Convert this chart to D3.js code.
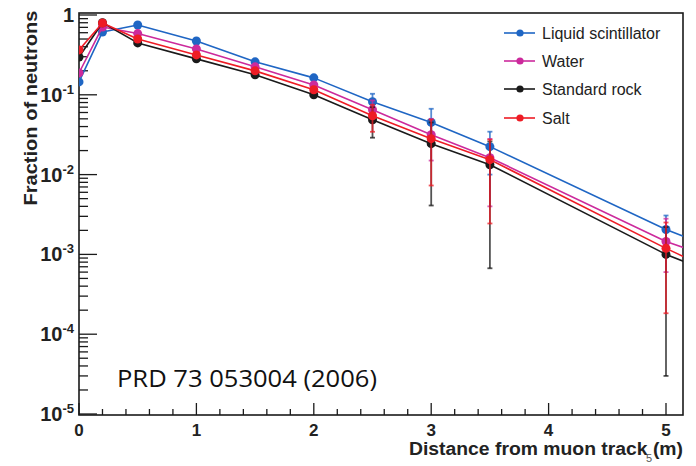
<!DOCTYPE html>
<html>
<head>
<meta charset="utf-8">
<script src="https://cdn.jsdelivr.net/npm/d3@7/dist/d3.min.js"></script>
<style>
	body { margin: 0; background: #fff; }
	svg { display: block; }
</style>
</head>
<body>
<div id="chart"></div>
<script>
// distances (m) where the fractions were computed
var distances = [0, 0.2, 0.5, 1, 1.5, 2, 2.5, 3, 3.5, 5];

var seriesNames = ["Liquid scintillator", "Water", "Standard rock", "Salt"];
var seriesColors = ["#1f66c4", "#cc2a9c", "#1a1a1a", "#ee1c25"];

// fraction of neutrons
var liquidScint = [0.145, 0.613, 0.75, 0.473, 0.259, 0.163, 0.0818, 0.0451, 0.0224, 0.00205];
var water       = [0.188, 0.708, 0.585, 0.376, 0.224, 0.133, 0.065, 0.0316, 0.0163, 0.00145];
var stdRock     = [0.298, 0.80, 0.447, 0.282, 0.178, 0.1, 0.0487, 0.0244, 0.0133, 0.001];
var salt        = [0.365, 0.794, 0.501, 0.316, 0.1995, 0.1155, 0.0546, 0.0282, 0.0154, 0.00119];

// where each curve leaves the frame on the right
var lineEndX = 5.15;
var lineEnds = [0.00168, 0.00122, 0.00082, 0.00094];

// error bars (low, high) for x = 2.5, 3, 3.5, 5
var errX = [2.5, 3, 3.5, 5];
var liquidScintErr = [[0.068, 0.103], [0.030, 0.0668], [0.010, 0.0345], [0.0012, 0.00307]];
var waterErr       = [[0.045, 0.085], [0.015, 0.050], [0.004, 0.028], [0.0006, 0.0028]];
var stdRockErr     = [[0.029, 0.070], [0.0041, 0.045], [0.00067, 0.026], [0.00003, 0.0022]];
var saltErr        = [[0.0344, 0.075], [0.0073, 0.0487], [0.00244, 0.0274], [0.000183, 0.00251]];

var xMajorTicks = [0, 1, 2, 3, 4, 5];
var yDecades = [-5, -4, -3, -2, -1, 0];

var seriesValues = [liquidScint, water, stdRock, salt];
var seriesErrs = [liquidScintErr, waterErr, stdRockErr, saltErr];

var width = 696, height = 466;
var frameL = 79, frameR = 683, frameT = 13, frameB = 415;
var sansFont = "'Liberation Sans', Arial, Helvetica, sans-serif";

var x = d3.scaleLinear().domain([0, 5]).range([frameL, 666]);
var y = d3.scaleLog().domain([1e-5, 1]).range([414, 15]);

var svg = d3.select("#chart").append("svg")
	.attr("width", width)
	.attr("height", height);

svg.append("defs").append("clipPath")
	.attr("id", "plotclip")
	.append("rect")
	.attr("x", frameL).attr("y", frameT)
	.attr("width", frameR - frameL).attr("height", frameB - frameT);

var tickColor = "#1a1a1a";
var textColor = "#222";

// x ticks (point up into the frame)
var xMinor = d3.range(0, 5.15, 0.2);
svg.append("g").selectAll("line")
	.data(xMinor)
	.enter().append("line")
	.attr("x1", function(d) { return x(d); })
	.attr("x2", function(d) { return x(d); })
	.attr("y1", frameB)
	.attr("y2", function(d) {
		return Math.abs(d - Math.round(d)) < 1e-6 ? frameB - 12 : frameB - 6;
	})
	.attr("stroke", tickColor)
	.attr("stroke-width", 1.3);

svg.append("g").selectAll("text")
	.data(xMajorTicks)
	.enter().append("text")
	.attr("x", function(d) { return x(d); })
	.attr("y", 436)
	.attr("text-anchor", "middle")
	.style("font-family", sansFont)
	.attr("font-weight", "bold")
	.attr("font-size", 17)
	.attr("fill", textColor)
	.text(function(d) { return d; });

// y ticks on log axis
var yMinor = [];
yDecades.forEach(function(p) {
	if (p >= 0) return;
	for (var k = 2; k <= 9; k++) yMinor.push(k * Math.pow(10, p));
});
svg.append("g").selectAll("line.minor")
	.data(yMinor)
	.enter().append("line")
	.attr("x1", frameL).attr("x2", frameL + 9)
	.attr("y1", function(d) { return y(d); })
	.attr("y2", function(d) { return y(d); })
	.attr("stroke", tickColor)
	.attr("stroke-width", 1.3);

svg.append("g").selectAll("line.major")
	.data(yDecades)
	.enter().append("line")
	.attr("x1", frameL).attr("x2", frameL + 18)
	.attr("y1", function(d) { return y(Math.pow(10, d)); })
	.attr("y2", function(d) { return y(Math.pow(10, d)); })
	.attr("stroke", tickColor)
	.attr("stroke-width", 1.3);

var yLabels = svg.append("g").selectAll("text")
	.data(yDecades)
	.enter().append("text")
	.attr("x", 74)
	.attr("y", function(d) { return y(Math.pow(10, d)) + 7; })
	.attr("text-anchor", "end")
	.style("font-family", sansFont)
	.attr("font-weight", "bold")
	.attr("font-size", 20)
	.attr("fill", textColor);

yLabels.each(function(d) {
	var t = d3.select(this);
	if (d === 0) {
		t.text("1");
		return;
	}
	t.append("tspan").text("10");
	t.append("tspan")
		.attr("font-size", 13)
		.attr("dy", -8)
		.text(d);
});

// frame
svg.append("rect")
	.attr("x", frameL).attr("y", frameT)
	.attr("width", frameR - frameL).attr("height", frameB - frameT)
	.attr("fill", "none")
	.attr("stroke", tickColor)
	.attr("stroke-width", 1.6);

// axis titles
svg.append("text")
	.attr("transform", "translate(37,108) rotate(-90)")
	.attr("text-anchor", "middle")
	.style("font-family", sansFont)
	.attr("font-weight", "bold")
	.attr("font-size", 19)
	.attr("textLength", 195)
	.attr("lengthAdjust", "spacingAndGlyphs")
	.attr("fill", textColor)
	.text("Fraction of  neutrons");

svg.append("text")
	.attr("x", 683)
	.attr("y", 455)
	.attr("text-anchor", "end")
	.style("font-family", sansFont)
	.attr("font-weight", "bold")
	.attr("font-size", 18)
	.attr("textLength", 274)
	.attr("lengthAdjust", "spacingAndGlyphs")
	.attr("fill", textColor)
	.text("Distance from muon track (m)");

// stray slide number sitting on the title
svg.append("text")
	.attr("x", 646)
	.attr("y", 462)
	.style("font-family", sansFont)
	.attr("font-size", 11)
	.attr("fill", "#555")
	.text("5");

// data
var plot = svg.append("g").attr("clip-path", "url(#plotclip)");

var line = d3.line()
	.x(function(d) { return x(d[0]); })
	.y(function(d) { return y(d[1]); });

seriesValues.forEach(function(vals, si) {
	var color = seriesColors[si];
	var g = plot.append("g");
	var pts = distances.map(function(d, i) { return [d, vals[i]]; });
	pts.push([lineEndX, lineEnds[si]]);

	g.append("path")
		.datum(pts)
		.attr("d", line)
		.attr("fill", "none")
		.attr("stroke", color)
		.attr("stroke-width", 1.6)
		.attr("stroke-linejoin", "round");

	var errs = seriesErrs[si];
	var eg = g.append("g")
		.attr("stroke", color)
		.attr("stroke-opacity", 0.75)
		.attr("stroke-width", 1.8);
	errX.forEach(function(ex, i) {
		var px = x(ex);
		eg.append("line")
			.attr("x1", px).attr("x2", px)
			.attr("y1", y(errs[i][0])).attr("y2", y(errs[i][1]));
		errs[i].forEach(function(v) {
			eg.append("line")
				.attr("x1", px - 2.5).attr("x2", px + 2.5)
				.attr("y1", y(v)).attr("y2", y(v));
		});
	});

	g.selectAll("circle")
		.data(distances)
		.enter().append("circle")
		.attr("cx", function(d) { return x(d); })
		.attr("cy", function(d, i) { return y(vals[i]); })
		.attr("r", 4.5)
		.attr("fill", color);
});

// legend
var legend = svg.append("g");
var legendY = [33, 61, 89, 118];
seriesNames.forEach(function(name, i) {
	var row = legend.append("g").attr("transform", "translate(0," + legendY[i] + ")");
	row.append("line")
		.attr("x1", 504).attr("x2", 535)
		.attr("stroke", seriesColors[i])
		.attr("stroke-width", 1.6);
	row.append("circle")
		.attr("cx", 520)
		.attr("r", 3.6)
		.attr("fill", seriesColors[i]);
	row.append("text")
		.attr("x", 542)
		.attr("y", 5.5)
		.style("font-family", sansFont)
		.attr("font-size", 16)
		.attr("fill", textColor)
		.text(name);
});

// citation
svg.append("text")
	.attr("x", 117)
	.attr("y", 387)
	.style("font-family", "'Open Sans', sans-serif")
	.attr("font-size", 24)
	.attr("textLength", 260)
	.attr("lengthAdjust", "spacingAndGlyphs")
	.attr("fill", "#111")
	.text("PRD 73 053004 (2006)");
</script>
</body>
</html>
